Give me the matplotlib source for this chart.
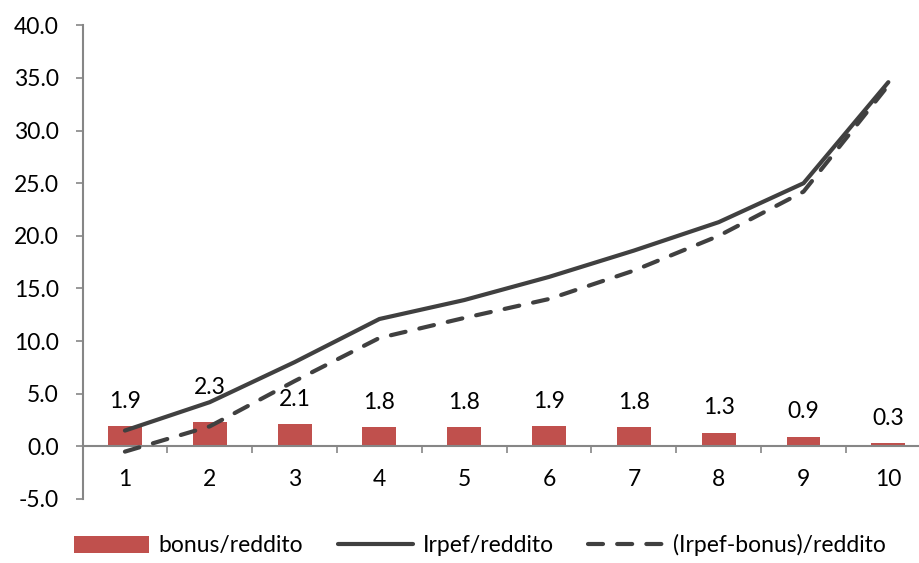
import matplotlib
import matplotlib.pyplot as plt
import numpy as np

matplotlib.use("Agg")

# Decile data
deciles = ["1", "2", "3", "4", "5", "6", "7", "8", "9", "10"]
bonus = [1.9, 2.3, 2.1, 1.8, 1.8, 1.9, 1.8, 1.3, 0.9, 0.3]
irpef = [1.5, 4.2, 8.0, 12.1, 13.9, 16.1, 18.6, 21.3, 25.0, 34.6]
irpef_net = [-0.5, 1.9, 6.2, 10.3, 12.2, 14.0, 16.7, 20.0, 24.2, 34.3]

plt.rcParams["font.family"] = ["Lato", "DejaVu Sans"]
fs = 16.5

fig = plt.figure(figsize=(9.19, 5.63), dpi=100)
ax = fig.add_axes([0.0898, 0.1137, 0.923, 0.8413])

x = np.arange(1, len(deciles) + 1)
grey = "#868686"
dark = "#404040"

bars = ax.bar(x, bonus, width=0.40, color="#C0504D", label="bonus/reddito", zorder=2)
l1, = ax.plot(x, irpef, color=dark, lw=3.0, label="Irpef/reddito", zorder=3,
              solid_capstyle="round")
l2, = ax.plot(x, irpef_net, color=dark, lw=3.0, dashes=(3.6, 3.4), dash_capstyle="round",
              label="(Irpef-bonus)/reddito", zorder=3)

# Labels above the bars (second one nudged up clear of the line)
for i, (xi, v) in enumerate(zip(x, bonus)):
    dy = 25 if i == 1 else 18
    ax.annotate(f"{v:.1f}", (xi, v), xytext=(0, dy), textcoords="offset points",
                ha="center", va="center", fontsize=fs, color="black")

ax.set_xlim(0.5, 10.5)
ax.set_ylim(-5, 40)
ax.set_yticks(np.arange(-5, 40.1, 5))
ax.set_yticklabels([f"{t:.1f}" for t in np.arange(-5, 40.1, 5)])

# Tick marks between categories, labels at centers
ax.set_xticks(np.arange(0.5, 10.6, 1))
ax.set_xticklabels([])
ax.set_xticks(x, minor=True)
ax.set_xticklabels(deciles, minor=True)
ax.tick_params(axis="x", which="major", length=5, width=1.2, color=grey, direction="out")
ax.tick_params(axis="x", which="minor", length=0, pad=16, labelsize=fs)
ax.tick_params(axis="y", length=5, width=1.2, color=grey, pad=12, labelsize=fs)

for side in ["top", "right"]:
    ax.spines[side].set_visible(False)
ax.spines["bottom"].set_position(("data", 0))
ax.spines["bottom"].set_color(grey)
ax.spines["left"].set_color(grey)
ax.spines["bottom"].set_linewidth(1.5)
ax.spines["left"].set_linewidth(1.5)

fig.legend(handles=[bars, l1, l2], loc="lower center", bbox_to_anchor=(0.522, -0.025),
           ncol=3, frameon=False, fontsize=fs, handlelength=3.3, handleheight=0.8,
           handletextpad=0.4, columnspacing=1.5)

fig.savefig("out.png", dpi=100)
